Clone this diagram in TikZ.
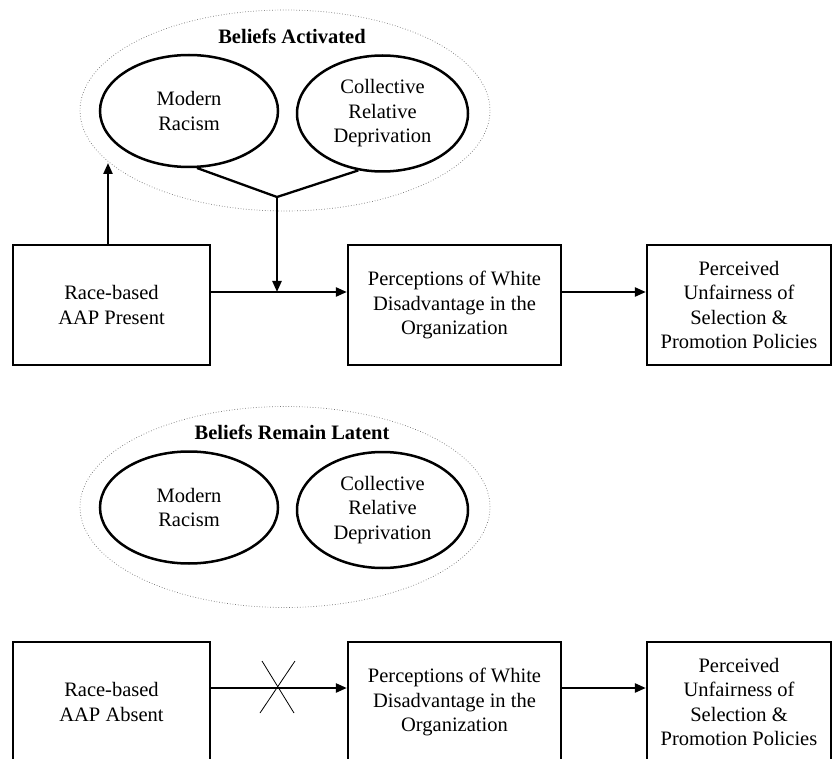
\documentclass[tikz,border=0pt]{standalone}
\usepackage{fontspec}
\setmainfont{Liberation Serif}
\usetikzlibrary{shapes.geometric,arrows.meta}
\newcommand\diagbody{\fontsize{20.5}{24.5}\selectfont}
\newcommand\diagtitle{\fontsize{20.5}{24.5}\selectfont\bfseries}
\begin{document}
\begin{tikzpicture}[x=1pt,y=-1pt,
  box/.style={draw, line width=2.3pt, inner sep=0pt, align=center, font=\diagbody},
  belief/.style={ellipse, draw, line width=2.5pt, inner sep=0pt, align=center, font=\diagbody},
  outer/.style={ellipse, draw=black!55, line width=0.7pt, dotted, inner sep=0pt, minimum width=410pt, minimum height=201pt},
  titlelabel/.style={font=\diagtitle, inner sep=0pt},
  arr/.style={line width=2.3pt, -{Triangle[length=11pt,width=9pt]}},
  link/.style={line width=2.3pt},
  crossline/.style={line width=0.8pt}
]
\path[use as bounding box] (0,0) rectangle (833,759);
\clip (0,0) rectangle (833,759);

% ---------- upper panel ----------
\node[outer] (out1) at (285,110.5) {};
\node[titlelabel] (t1) at (292,36) {Beliefs Activated};
\node[belief, minimum width=178pt, minimum height=112pt] (mr1) at (189,111) {Modern\\Racism};
\node[belief, minimum width=171pt, minimum height=116pt] (crd1) at (382.5,113.5) {Collective\\Relative\\Deprivation};
\node[box, minimum width=197pt, minimum height=120pt] (a1) at (111.5,305) {Race-based\\AAP Present};
\node[box, minimum width=213pt, minimum height=120pt] (p1) at (454.5,305) {Perceptions of White\\Disadvantage in the\\Organization};
\node[box, minimum width=184pt, minimum height=120pt] (u1) at (739,305) {Perceived\\Unfairness of\\Selection \&\\Promotion Policies};

\coordinate (apex1) at (277,197);
\coordinate (j1) at (277,292);
\coordinate (tip1) at (108,163);

\draw[link] (mr1.-82) -- (apex1) -- (crd1.-113);
\draw[arr] (apex1) -- (j1);
\draw[arr] (a1.east |- j1) -- (p1.west |- j1);
\draw[arr] (a1.north -| tip1) -- (tip1);
\draw[arr] (p1.east |- j1) -- (u1.west |- j1);

% ---------- lower panel ----------
\node[outer] (out2) at (285,507) {};
\node[titlelabel] (t2) at (292,432) {Beliefs Remain Latent};
\node[belief, minimum width=178pt, minimum height=112pt] (mr2) at (189,507.5) {Modern\\Racism};
\node[belief, minimum width=171pt, minimum height=116pt] (crd2) at (382.5,510) {Collective\\Relative\\Deprivation};
\node[box, minimum width=197pt, minimum height=120pt] (a2) at (111.5,702) {Race-based\\AAP Absent};
\node[box, minimum width=213pt, minimum height=120pt] (p2) at (454.5,702) {Perceptions of White\\Disadvantage in the\\Organization};
\node[box, minimum width=184pt, minimum height=120pt] (u2) at (739,702) {Perceived\\Unfairness of\\Selection \&\\Promotion Policies};

\coordinate (j2) at (277.5,688);
\coordinate (c1) at (262,661);
\coordinate (c2) at (294,713);
\coordinate (c3) at (295,661);
\coordinate (c4) at (260,713);

\draw[arr] (a2.east |- j2) -- (p2.west |- j2);
\draw[arr] (p2.east |- j2) -- (u2.west |- j2);
\draw[crossline] (c1) -- (c2);
\draw[crossline] (c3) -- (c4);
\end{tikzpicture}
\end{document}
